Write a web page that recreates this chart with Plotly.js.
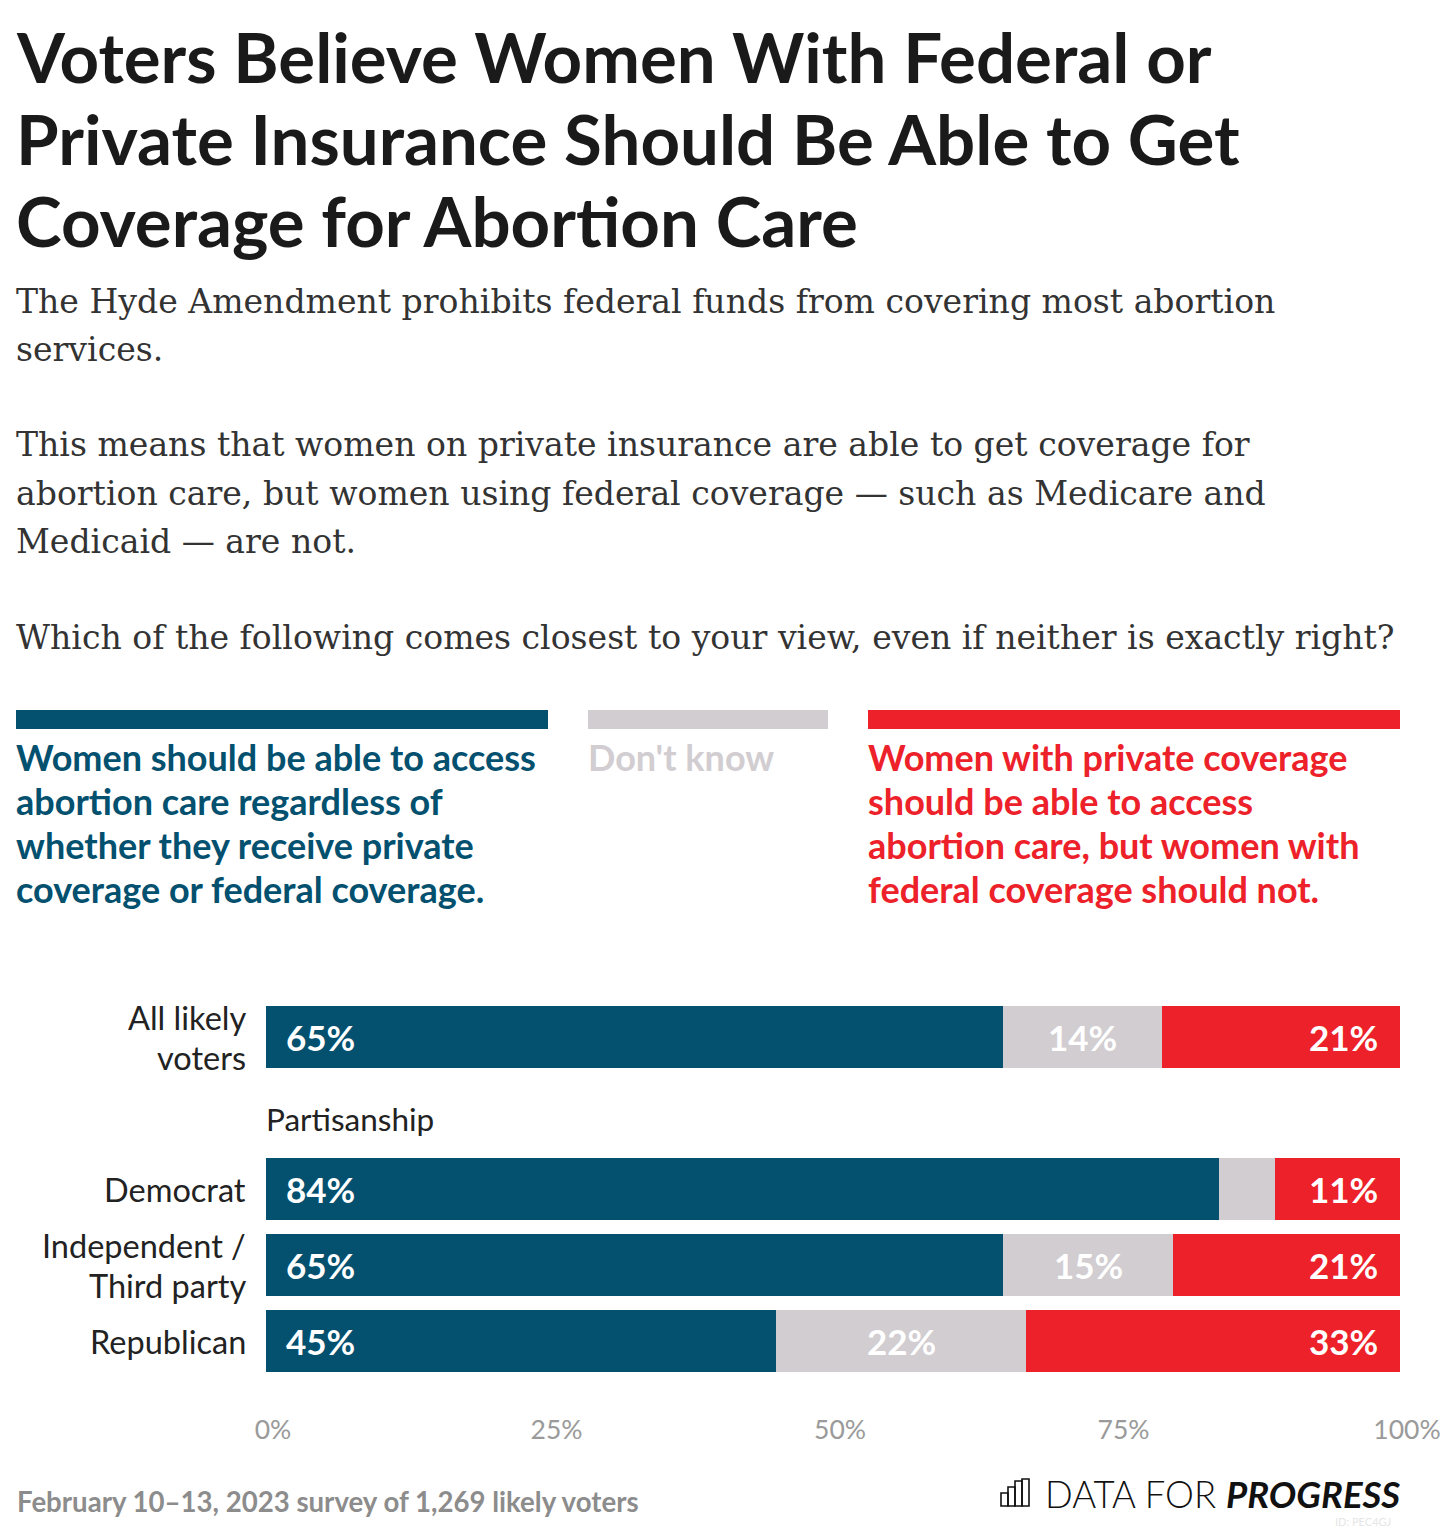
<!DOCTYPE html>
<html>
<head>
<meta charset="utf-8">
<script src="https://cdn.plot.ly/plotly-3.0.1.min.js"></script>
<style>html,body{margin:0;padding:0;background:#fff;}#chart{width:1440px;height:1528px;}</style>
</head>
<body>
<div id="chart"></div>
<script>
// ---- Data ----
var categories = ["All likely<br>voters", "Partisanship", "Democrat", "Independent /<br>Third party", "Republican"];
var groups = ["All likely<br>voters", "Democrat", "Independent /<br>Third party", "Republican"];
var supportAll = [65, 84, 65, 45];
var dontKnow = [14, 5, 15, 22];
var privateOnly = [21, 11, 21, 33];
var dkLabelShown = [true, false, true, true];
var xTickVals = [0, 25, 50, 75, 100];
var xTickText = ["0%", "25%", "50%", "75%", "100%"];
var seriesNames = ["Women should be able to access abortion care regardless of whether they receive private coverage or federal coverage.", "Don't know", "Women with private coverage should be able to access abortion care, but women with federal coverage should not."];

var BLUE = "#03506F", GRAY = "#D1CDD1", RED = "#ED2129";
var SANS = "Lato, 'Open Sans', sans-serif";
var SERIF = "'DejaVu Serif', 'Liberation Serif', serif";
var XMAX = 100;

// layout geometry (pixels)
var W = 1440, H = 1528, L = 266, R = 40, T = 999, B = 123;
var PW = W - L - R, PH = H - T - B;
function PX(px) { return (px - L) / PW; }
function PY(py) { return (H - B - py) / PH; }

var traces = [
  {type: "bar", orientation: "h", name: seriesNames[0], y: groups, x: supportAll, marker: {color: BLUE}, hoverinfo: "x"},
  {type: "bar", orientation: "h", name: seriesNames[1], y: groups, x: dontKnow, marker: {color: GRAY}, hoverinfo: "x"},
  {type: "bar", orientation: "h", name: seriesNames[2], y: groups, x: privateOnly, marker: {color: RED}, hoverinfo: "x"},
  {type: "bar", orientation: "h", name: "spacer", y: ["Partisanship"], x: [0], marker: {color: "rgba(0,0,0,0)"}, hoverinfo: "skip", showlegend: false}
];

var ann = [];
function txt(s, px, py, size, color, family, anchor, extra) {
  var a = {text: s, xref: "paper", yref: "paper", x: PX(px), y: PY(py), xanchor: anchor || "left", yanchor: "middle",
    showarrow: false, font: {size: size, color: color, family: family}, align: anchor === "right" ? "right" : "left"};
  if (extra) for (var k in extra) a[k] = extra[k];
  ann.push(a);
}
// title
var titleLines = ["Voters Believe Women With Federal or", "Private Insurance Should Be Able to Get", "Coverage for Abortion Care"];
var titleY = [57, 138, 220];
titleLines.forEach(function (s, i) { txt("<b>" + s + "</b>", 14, titleY[i], 69, "#1a1a1a", SANS); });
// subtitle
var subLines = ["The Hyde Amendment prohibits federal funds from covering most abortion", "services.",
  "This means that women on private insurance are able to get coverage for",
  "abortion care, but women using federal coverage \u2014 such as Medicare and", "Medicaid \u2014 are not.",
  "Which of the following comes closest to your view, even if neither is exactly right?"];
var subY = [301, 349, 445, 493, 541, 637];
subLines.forEach(function (s, i) { txt(s, 14, subY[i], 33.1, "#333333", SERIF); });
// legend text
var legBlue = ["Women should be able to access", "abortion care regardless of", "whether they receive private", "coverage or federal coverage."];
var legRed = ["Women with private coverage", "should be able to access", "abortion care, but women with", "federal coverage should not."];
var legY = [757, 801, 845, 889];
legBlue.forEach(function (s, i) { txt("<b>" + s + "</b>", 14, legY[i], 36, BLUE, SANS); });
legRed.forEach(function (s, i) { txt("<b>" + s + "</b>", 866, legY[i], 36, RED, SANS); });
txt("<b>Don't know</b>", 586, legY[0], 36, GRAY, SANS);

// category labels (one annotation per text line)
groups.forEach(function (g) {
  var lines = g.split("<br>");
  lines.forEach(function (ln, j) {
    ann.push({text: ln, x: 0, y: g, xref: "paper", yref: "y", xanchor: "right", yanchor: "middle", xshift: -18,
      yshift: ((lines.length - 1) / 2 - j) * 40, showarrow: false, font: {size: 32.5, color: "#222222", family: SANS}});
  });
});

// bar value labels from data
groups.forEach(function (g, i) {
  ann.push({text: "<b>" + supportAll[i] + "%</b>", x: 0, y: g, xref: "x", yref: "y", xanchor: "left", xshift: 18, showarrow: false,
    font: {size: 35, color: "#ffffff", family: SANS}});
  if (dkLabelShown[i]) ann.push({text: "<b>" + dontKnow[i] + "%</b>", x: supportAll[i] + dontKnow[i] / 2, y: g, xref: "x", yref: "y", xanchor: "center", showarrow: false,
    font: {size: 35, color: "#ffffff", family: SANS}});
  ann.push({text: "<b>" + privateOnly[i] + "%</b>", x: Math.min(XMAX, supportAll[i] + dontKnow[i] + privateOnly[i]), y: g, xref: "x", yref: "y", xanchor: "right", xshift: -20, showarrow: false,
    font: {size: 35, color: "#ffffff", family: SANS}});
});
ann.push({text: "Partisanship", x: 0, y: "Partisanship", xref: "x", yref: "y", xanchor: "left", yanchor: "middle", xshift: -2, yshift: -6, showarrow: false,
  font: {size: 31.5, color: "#222222", family: SANS}});

// footer
txt("<b>February 10\u201313, 2023 survey of 1,269 likely voters</b>", 15, 1501, 27.6, "#8c8c8c", SANS);
txt("DATA FOR <b><i>PROGRESS</i></b>", 1402, 1494, 36.5, "#111111", SANS, "right", {font: {size: 36.5, color: "#111111", family: SANS, weight: 300}});
txt("ID: PEC4GJ", 1393, 1521, 11, "#e6e6e6", SANS, "right");

// legend swatches and logo icon
var shapes = [
  {type: "rect", xref: "paper", yref: "paper", x0: PX(16), x1: PX(548), y0: PY(710), y1: PY(729), fillcolor: BLUE, line: {width: 0}},
  {type: "rect", xref: "paper", yref: "paper", x0: PX(588), x1: PX(828), y0: PY(710), y1: PY(729), fillcolor: GRAY, line: {width: 0}},
  {type: "rect", xref: "paper", yref: "paper", x0: PX(868), x1: PX(1400), y0: PY(710), y1: PY(729), fillcolor: RED, line: {width: 0}}
];
var iconBars = [[1001, 1493], [1008, 1487], [1015, 1481], [1022, 1479]];
iconBars.forEach(function (b) {
  shapes.push({type: "rect", xref: "paper", yref: "paper", x0: PX(b[0]), x1: PX(b[0] + 7), y0: PY(1506), y1: PY(b[1]), fillcolor: "rgba(0,0,0,0)", line: {width: 1.6, color: "#111"}});
});

var layout = {
  width: W, height: H,
  margin: {l: L, r: R, t: T, b: B, pad: 0},
  paper_bgcolor: "#ffffff", plot_bgcolor: "#ffffff",
  barmode: "stack", bargap: 0.184, showlegend: false,
  xaxis: {range: [0, XMAX], tickvals: xTickVals, ticktext: xTickText, showgrid: false, zeroline: false, showline: false,
    ticks: "outside", ticklen: 1, tickcolor: "rgba(0,0,0,0)", ticklabelshift: 7, ticklabeloverflow: "allow",
    tickfont: {size: 26.5, color: "#9a9a9a", family: SANS}, fixedrange: true},
  yaxis: {type: "category", categoryorder: "array", categoryarray: categories, range: [4.84, -0.5],
    showticklabels: false, showgrid: false, zeroline: false, showline: false, ticks: "", fixedrange: true},
  annotations: ann, shapes: shapes
};
Plotly.newPlot("chart", traces, layout, {displayModeBar: false, staticPlot: true});
</script>
</body>
</html>
